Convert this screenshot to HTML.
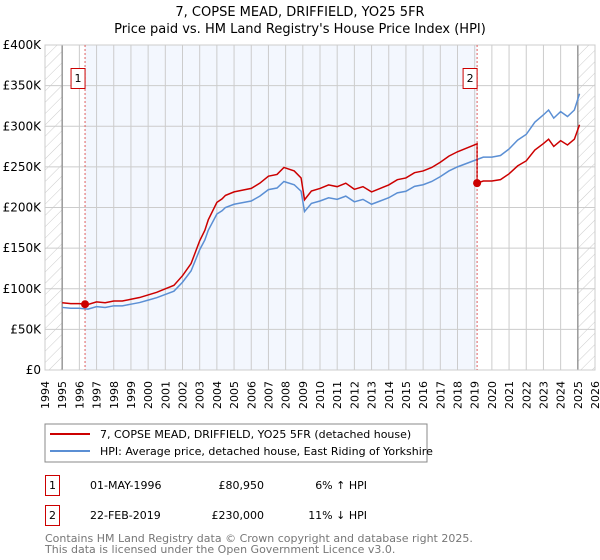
<!DOCTYPE html>
<html><head><meta charset="utf-8"><style>
body{margin:0;background:#fff;font-family:"DejaVu Sans","Liberation Sans",sans-serif;}
svg{display:block}
</style></head><body>
<svg id="c" width="600" height="560" viewBox="0 0 600 560">
<defs><pattern id="h" width="8" height="8" patternUnits="userSpaceOnUse" patternTransform="rotate(45)"><line x1="0" y1="0" x2="0" y2="8" stroke="#ccc" stroke-width="1"/></pattern></defs>
<text x="300" y="16" text-anchor="middle" font-size="13">7, COPSE MEAD, DRIFFIELD, YO25 5FR</text>
<text x="300" y="33" text-anchor="middle" font-size="13">Price paid vs. HM Land Registry's House Price Index (HPI)</text>
<g id="plot"></g>
<rect x="45" y="424" width="382" height="38" fill="#fff" stroke="#888"/>
<line x1="50" y1="434" x2="90" y2="434" stroke="#cc0000" stroke-width="2"/>
<text x="100" y="438" font-size="11">7, COPSE MEAD, DRIFFIELD, YO25 5FR (detached house)</text>
<line x1="50" y1="451" x2="90" y2="451" stroke="#5b8fd4" stroke-width="2"/>
<text x="100" y="455" font-size="11">HPI: Average price, detached house, East Riding of Yorkshire</text>
<g font-size="11">
<rect x="45.5" y="475.5" width="14" height="20" fill="#fff" stroke="#cc0000"/>
<text x="52.5" y="489" text-anchor="middle">1</text>
<text x="90" y="489">01-MAY-1996</text>
<text x="264" y="489" text-anchor="end">£80,950</text>
<text x="367" y="489" text-anchor="end">6% ↑ HPI</text>
<rect x="45.5" y="505.5" width="14" height="20" fill="#fff" stroke="#cc0000"/>
<text x="52.5" y="519" text-anchor="middle">2</text>
<text x="90" y="519">22-FEB-2019</text>
<text x="264" y="519" text-anchor="end">£230,000</text>
<text x="367" y="519" text-anchor="end">11% ↓ HPI</text>
</g>
<text x="45" y="542" font-size="11" fill="#777">Contains HM Land Registry data © Crown copyright and database right 2025.</text>
<text x="45" y="553" font-size="11" fill="#777">This data is licensed under the Open Government Licence v3.0.</text>
</svg>
<script>
const hpiYears=[1995,1995.5,1996,1996.5,1997,1997.5,1998,1998.5,1999,1999.5,2000,2000.5,2001,2001.5,2002,2002.5,2003,2003.3,2003.5,2004,2004.3,2004.5,2005,2005.5,2006,2006.5,2007,2007.5,2007.9,2008.5,2008.9,2009.1,2009.5,2010,2010.5,2011,2011.5,2012,2012.5,2013,2013.5,2014,2014.5,2015,2015.5,2016,2016.5,2017,2017.5,2018,2018.5,2019,2019.5,2020,2020.5,2021,2021.5,2022,2022.5,2023,2023.3,2023.6,2024,2024.4,2024.8,2025.1];
const hpiValues=[77,76,76,75,78,77,79,79,81,83,86,89,93,97,108,122,148,160,172,192,196,200,204,206,208,214,222,224,232,228,220,195,205,208,212,210,214,207,210,204,208,212,218,220,226,228,232,238,245,250,254,258,262,262,264,272,283,290,305,314,320,310,318,312,320,340];
const saleYears=[1996.33,2019.14];
const saleValues=[80.95,230];
const yTicks=[0,50,100,150,200,250,300,350,400];
const yTickLabels=["£0","£50K","£100K","£150K","£200K","£250K","£300K","£350K","£400K"];
const xTicks=[1994,1995,1996,1997,1998,1999,2000,2001,2002,2003,2004,2005,2006,2007,2008,2009,2010,2011,2012,2013,2014,2015,2016,2017,2018,2019,2020,2021,2022,2023,2024,2025,2026];
const ns="http://www.w3.org/2000/svg";
const L=45,R=595,T=45,B=370;
const x=v=>L+(v-1994)*(R-L)/32;
const y=v=>B-v*(B-T)/400;
const g=document.getElementById('plot');
function mk(t,a){const e=document.createElementNS(ns,t);for(const k in a)e.setAttribute(k,a[k]);g.appendChild(e);return e;}
let e;
e=mk('rect',{x:x(saleYears[0]),y:T,width:x(saleYears[1])-x(saleYears[0]),height:B-T,fill:'#f3f7fe'});


e=mk('rect',{x:L,y:T,width:x(1995)-L,height:B-T,fill:'url(#h)'});


e=mk('rect',{x:x(2025),y:T,width:R-x(2025),height:B-T,fill:'url(#h)'});


xTicks.forEach(v=>{
 e=mk('line',{x1:x(v),x2:x(v),y1:T,y2:B,stroke:'#ccc'});
 
 
 const lx=x(v)+4,ly=B+11;
 e=mk('text',{x:lx,y:ly,'font-size':11,'text-anchor':'end',transform:`rotate(-90 ${lx} ${ly})`});
 e.textContent=v;
 
 
});
yTicks.forEach((v,i)=>{
 e=mk('line',{x1:L,x2:R,y1:y(v),y2:y(v),stroke:'#ccc'});
 
 
 e=mk('text',{x:L-4,y:y(v)+4,'font-size':12,'text-anchor':'end'});
 e.textContent=yTickLabels[i];
 
 
});
[1995,2025].forEach(v=>{e=mk('line',{x1:x(v),x2:x(v),y1:T,y2:B,stroke:'#999','stroke-width':1.5});
 
 });
e=mk('rect',{x:L,y:T,width:R-L,height:B-T,fill:'none',stroke:'#ccc'});


function interp(t){for(let i=0;i<hpiYears.length-1;i++){if(t<=hpiYears[i+1]){const f=(t-hpiYears[i])/(hpiYears[i+1]-hpiYears[i]);return hpiValues[i]+f*(hpiValues[i+1]-hpiValues[i]);}}return hpiValues[hpiValues.length-1];}
const r1=saleValues[0]/interp(saleYears[0]),r2=saleValues[1]/interp(saleYears[1]);
let redPts=[];
hpiYears.forEach((t,i)=>{if(t<saleYears[1])redPts.push([x(t),y(hpiValues[i]*r1)]);});
redPts.push([x(saleYears[1]),y(interp(saleYears[1])*r1)]);
redPts.push([x(saleYears[1]),y(saleValues[1])]);
hpiYears.forEach((t,i)=>{if(t>saleYears[1])redPts.push([x(t),y(hpiValues[i]*r2)]);});
e=mk('polyline',{points:hpiYears.map((t,i)=>x(t)+','+y(hpiValues[i])).join(' '),fill:'none',stroke:'#5b8fd4','stroke-width':1.5});


e=mk('polyline',{points:redPts.map(p=>p.join(',')).join(' '),fill:'none',stroke:'#cc0000','stroke-width':1.5});


saleYears.forEach((t,i)=>{
 e=mk('line',{x1:x(t),x2:x(t),y1:T,y2:B,stroke:'#e06060','stroke-dasharray':'2,2'});
 
 
 e=mk('circle',{cx:x(t),cy:y(saleValues[i]),r:4,fill:'#cc0000'});
 
 
 e=mk('rect',{x:x(t)-14,y:68.5,width:14,height:20,fill:'#fff',stroke:'#cc0000'});
 
 
 e=mk('text',{x:x(t)-7,y:82,'font-size':11,'text-anchor':'middle'});
 e.textContent=i+1;
 
 
});
</script>
</body></html>
